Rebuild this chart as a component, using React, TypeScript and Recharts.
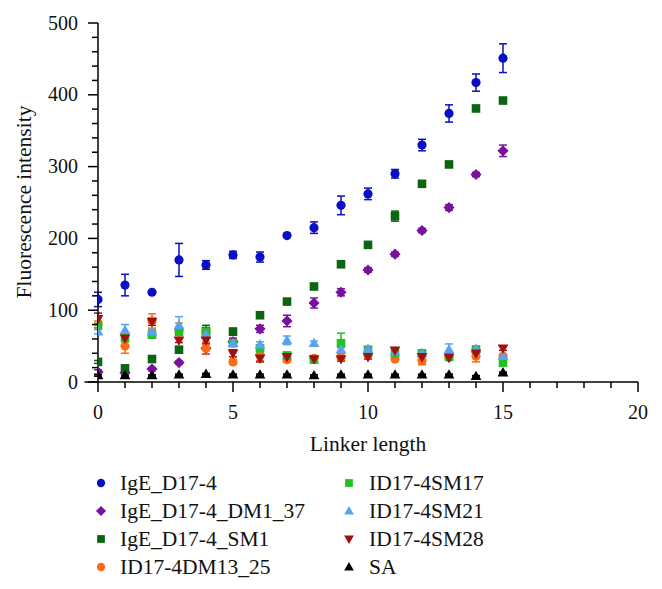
import React from 'react';
import { ScatterChart, Scatter, XAxis, YAxis, ErrorBar, Legend, Customized, ReferenceLine } from 'recharts';

const linkerLengths = [0, 1, 2, 3, 4, 5, 6, 7, 8, 9, 10, 11, 12, 13, 14, 15];

const igeD174 = [115, 135, 125, 170, 163, 177, 174, 204, 215, 246, 262, 290, 330, 374, 417, 451];
const igeD174Err = [10, 15, 2, 23, 6, 5, 7, 2, 8, 13, 8, 6, 8, 12, 12, 20];

const igeDM137 = [14, 13, 18, 27, 47, 56, 74, 85, 110, 125, 156, 178, 211, 243, 289, 322];
const igeDM137Err = [3, 2, 2, 2, 8, 5, 5, 8, 7, 5, 3, 3, 3, 4, 3, 8];

const igeSM1 = [28, 19, 32, 45, 71, 70, 93, 112, 133, 164, 191, 231, 276, 303, 381, 392];
const igeSM1Err = [2, 2, 2, 2, 8, 5, 2, 2, 2, 2, 2, 7, 2, 2, 3, 3];

const dm1325 = [80, 50, 85, 72, 47, 28, 38, 31, 33, 34, 38, 32, 30, 34, 36, 36];
const dm1325Err = [5, 10, 10, 10, 8, 3, 8, 3, 3, 3, 3, 3, 6, 3, 8, 3];

const sm17 = [79, 61, 66, 70, 70, 54, 47, 37, 31, 54, 45, 40, 40, 35, 45, 27];
const sm17Err = [3, 3, 5, 3, 5, 3, 3, 3, 3, 14, 3, 3, 3, 3, 5, 3];

const sm21 = [70, 72, 70, 79, 66, 54, 52, 58, 54, 45, 46, 42, 40, 45, 46, 36];
const sm21Err = [3, 8, 3, 12, 3, 4, 4, 6, 3, 3, 3, 3, 3, 8, 3, 3];

const sm28 = [88, 61, 84, 58, 58, 40, 33, 35, 32, 32, 35, 44, 35, 34, 40, 47];
const sm28Err = [8, 3, 5, 3, 5, 5, 5, 3, 3, 3, 3, 3, 8, 3, 3, 3];

const sa = [9, 9, 9, 10, 11, 10, 10, 10, 9, 10, 10, 10, 10, 10, 8, 13];
const saErr = [1, 1, 1, 1, 1, 1, 1, 1, 1, 1, 1, 1, 1, 1, 1, 1];

const xTicks = [0, 1, 2, 3, 4, 5, 6, 7, 8, 9, 10, 11, 12, 13, 14, 15, 16, 17, 18, 19, 20];
const yTicks = [0, 20, 40, 60, 80, 100, 120, 140, 160, 180, 200, 220, 240, 260, 280, 300, 320, 340, 360, 380, 400, 420, 440, 460, 480, 500];

const FONT = '"Liberation Serif", "DejaVu Serif", serif';

type MarkerType = 'circle' | 'diamond' | 'square' | 'triangle' | 'triangleDown';

const seriesDefs: { name: string; values: number[]; errs: number[]; color: string; marker: MarkerType }[] = [
  { name: 'IgE_D17-4', values: igeD174, errs: igeD174Err, color: '#0a0fc4', marker: 'circle' },
  { name: 'IgE_D17-4_DM1_37', values: igeDM137, errs: igeDM137Err, color: '#7a119e', marker: 'diamond' },
  { name: 'IgE_D17-4_SM1', values: igeSM1, errs: igeSM1Err, color: '#0b640f', marker: 'square' },
  { name: 'ID17-4DM13_25', values: dm1325, errs: dm1325Err, color: '#ff6a14', marker: 'circle' },
  { name: 'ID17-4SM17', values: sm17, errs: sm17Err, color: '#22c022', marker: 'square' },
  { name: 'ID17-4SM21', values: sm21, errs: sm21Err, color: '#5aa2f0', marker: 'triangle' },
  { name: 'ID17-4SM28', values: sm28, errs: sm28Err, color: '#a0100e', marker: 'triangleDown' },
  { name: 'SA', values: sa, errs: saErr, color: '#000000', marker: 'triangle' },
];

function Marker({ type, cx, cy, color, scale = 1 }: { type: MarkerType; cx: number; cy: number; color: string; scale?: number }) {
  if (cx == null || cy == null) return null;
  const s = scale;
  switch (type) {
    case 'circle':
      return <circle cx={cx} cy={cy} r={4.6 * s} fill={color} />;
    case 'square':
      return <rect x={cx - 4.3 * s} y={cy - 4.3 * s} width={8.6 * s} height={8.6 * s} fill={color} />;
    case 'diamond':
      return <path d={`M${cx},${cy - 5.6 * s}L${cx + 5.6 * s},${cy}L${cx},${cy + 5.6 * s}L${cx - 5.6 * s},${cy}Z`} fill={color} />;
    case 'triangle':
      return <path d={`M${cx},${cy - 5.6 * s}L${cx + 5.4 * s},${cy + 3.8 * s}L${cx - 5.4 * s},${cy + 3.8 * s}Z`} fill={color} />;
    case 'triangleDown':
      return <path d={`M${cx},${cy + 5.6 * s}L${cx + 5.4 * s},${cy - 3.8 * s}L${cx - 5.4 * s},${cy - 3.8 * s}Z`} fill={color} />;
  }
  return null;
}

const textStyle = { fontFamily: FONT };

function XTick(props: any) {
  const { x, y, payload } = props;
  const v = payload.value;
  const major = v % 5 === 0;
  return (
    <g>
      <line x1={x} y1={y} x2={x} y2={y + (major ? 10 : 6)} stroke="#000" strokeWidth={1.5} />
      {major && (
        <text x={x} y={y + 37} textAnchor="middle" fontSize={20} fontFamily={FONT} style={textStyle} fill="#111">
          {v}
        </text>
      )}
    </g>
  );
}

function YTick(props: any) {
  const { x, y, payload } = props;
  const v = payload.value;
  const major = v % 100 === 0;
  return (
    <g>
      <line x1={x} y1={y} x2={x - (major ? 10 : 6)} y2={y} stroke="#000" strokeWidth={1.5} />
      {major && (
        <text x={x - 20} y={y + 6.5} textAnchor="end" fontSize={20} fontFamily={FONT} style={textStyle} fill="#111">
          {v}
        </text>
      )}
    </g>
  );
}

const legendCol1 = seriesDefs.slice(0, 4);
const legendCol2 = seriesDefs.slice(4, 8);

function LegendContent() {
  const rowTops = [483, 511, 539, 567];
  const renderCol = (items: typeof seriesDefs, markerX: number, textX: number) =>
    items.map((s, i) => (
      <div key={s.name} style={{ position: 'absolute', left: 0, top: 0 }}>
        <svg width={20} height={20} style={{ position: 'absolute', left: markerX - 10, top: rowTops[i] - 10, overflow: 'visible' }}>
          <Marker type={s.marker} cx={10} cy={10} color={s.color} scale={0.9} />
        </svg>
        <div
          style={{
            position: 'absolute',
            left: textX,
            top: rowTops[i] - 14,
            fontFamily: FONT,
            fontSize: 21.5,
            lineHeight: '28px',
            whiteSpace: 'nowrap',
            color: '#111',
          }}
        >
          {s.name}
        </div>
      </div>
    ));
  return (
    <div style={{ position: 'relative', width: 0, height: 0 }}>
      {renderCol(legendCol1, 101, 120)}
      {renderCol(legendCol2, 349, 369)}
    </div>
  );
}

export default function App() {
  return (
    <div style={{ position: 'absolute', left: 0, top: 0, width: 662, height: 589, background: '#fff' }}>
      <ScatterChart width={662} height={589} margin={{ top: 23, right: 24, left: 38, bottom: 177 }}>
        <XAxis
          type="number"
          dataKey="x"
          domain={[0, 20]}
          ticks={xTicks}
          interval={0}
          tick={<XTick />}
          tickLine={false}
          tickSize={0}
          tickMargin={0}
          axisLine={{ stroke: '#000', strokeWidth: 1.5 }}
          height={30}
          allowDataOverflow
        />
        <YAxis
          type="number"
          dataKey="y"
          domain={[0, 500]}
          ticks={yTicks}
          interval={0}
          tick={<YTick />}
          tickLine={false}
          tickSize={0}
          tickMargin={0}
          axisLine={{ stroke: '#000', strokeWidth: 1.5 }}
          width={60}
          allowDataOverflow
        />
        <ReferenceLine
          segment={[{ x: -0.5, y: 0 }, { x: 0, y: 0 }]}
          stroke="#000"
          strokeWidth={1.5}
          ifOverflow="visible"
        />
        {seriesDefs.map((s) => (
          <Scatter
            key={s.name}
            name={s.name}
            data={linkerLengths.map((x, i) => ({ x, y: s.values[i], err: s.errs[i] }))}
            fill={s.color}
            isAnimationActive={false}
            shape={(p: any) => <Marker type={s.marker} cx={p.cx} cy={p.cy} color={s.color} />}
          >
            <ErrorBar dataKey="err" direction="y" width={4} stroke={s.color} strokeWidth={1.5} />
          </Scatter>
        ))}
        <Legend
          content={<LegendContent />}
          wrapperStyle={{ left: 0, top: 0, bottom: 'auto', width: 0, height: 0 }}
        />
        <Customized
          component={() => (
            <g>
              <text x={368} y={451} textAnchor="middle" fontSize={21.5} fontFamily={FONT} style={textStyle} fill="#111">
                Linker length
              </text>
              <text
                x={0}
                y={0}
                transform="translate(24,202) rotate(-90)"
                textAnchor="middle"
                dominantBaseline="central"
                fontSize={21.5}
                fontFamily={FONT}
                style={textStyle}
                fill="#111"
              >
                Fluorescence intensity
              </text>
            </g>
          )}
        />
      </ScatterChart>
    </div>
  );
}
